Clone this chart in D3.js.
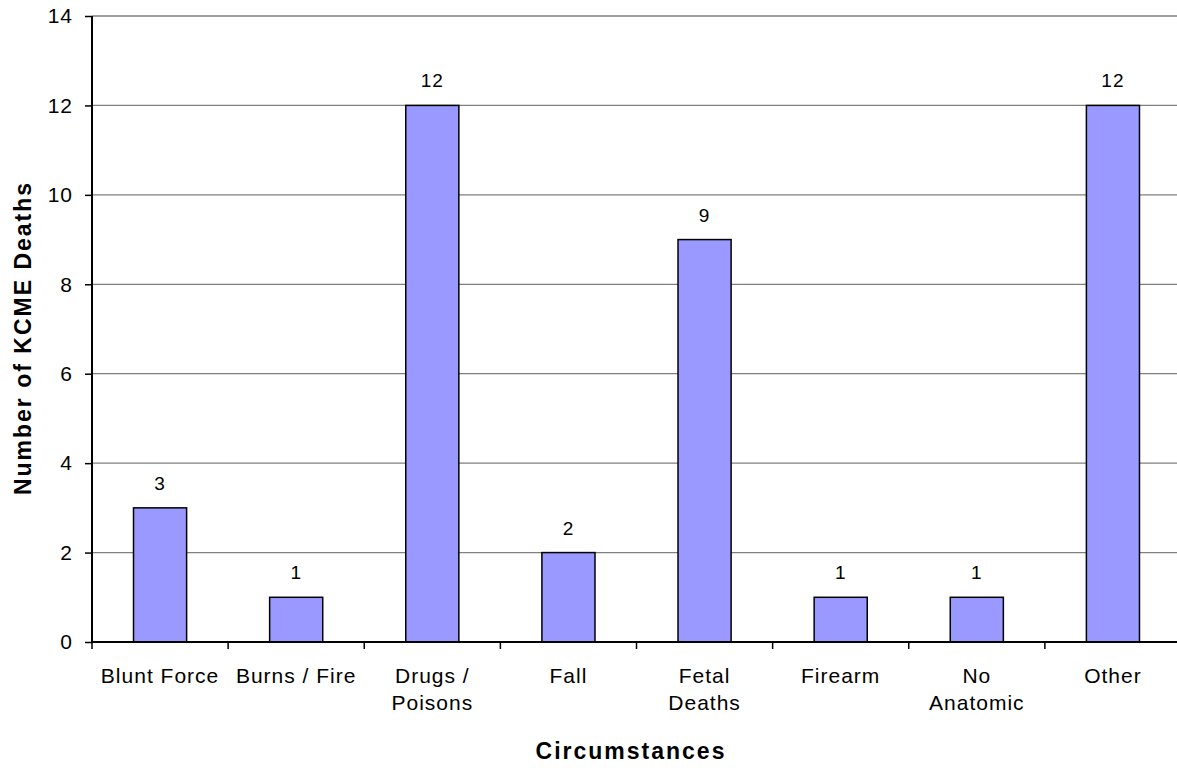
<!DOCTYPE html>
<html>
<head>
<script src="https://cdnjs.cloudflare.com/ajax/libs/d3/7.8.5/d3.min.js"></script>
<style>
  body { margin: 0; background: white; }
  text { font-family: "Liberation Sans", Arial, sans-serif; fill: black; }
</style>
</head>
<body>
<script>
var categories = [["Blunt Force"], ["Burns / Fire"], ["Drugs /", "Poisons"], ["Fall"], ["Fetal", "Deaths"], ["Firearm"], ["No", "Anatomic"], ["Other"]];
var deaths = [3, 1, 12, 2, 9, 1, 1, 12];
var yTicks = [0, 2, 4, 6, 8, 10, 12, 14];

var W = 1177, H = 768;
var mLeft = 92, mRight = 1181, mTop = 16, mBottom = 642;

var svg = d3.select("body").append("svg").attr("width", W).attr("height", H);

var x = d3.scaleBand().domain(d3.range(categories.length)).range([mLeft, mRight]).paddingInner(0.61).paddingOuter(0.305);
var y = d3.scaleLinear().domain([0, 14]).range([mBottom, mTop]);

// gridlines
svg.selectAll(".grid").data(yTicks.filter(function(d) { return d > 0; })).enter().append("line")
  .attr("x1", mLeft).attr("x2", mRight)
  .attr("y1", function(d) { return y(d); }).attr("y2", function(d) { return y(d); })
  .attr("stroke", "#808080").attr("stroke-width", 1.3);

// bars
svg.selectAll(".bar").data(deaths).enter().append("rect")
  .attr("x", function(d, i) { return x(i); })
  .attr("y", function(d) { return y(d); })
  .attr("width", x.bandwidth())
  .attr("height", function(d) { return y(0) - y(d); })
  .attr("fill", "#9999ff").attr("stroke", "black").attr("stroke-width", 1.5);

// value labels
svg.selectAll(".val").data(deaths).enter().append("text")
  .attr("x", function(d, i) { return x(i) + x.bandwidth() / 2; })
  .attr("y", function(d) { return y(d) - 18; })
  .attr("text-anchor", "middle").attr("font-size", 19).attr("letter-spacing", 1)
  .text(function(d) { return d; });

// y axis
var yAxis = d3.axisLeft(y).tickValues(yTicks).tickSize(7).tickPadding(12);
var ya = svg.append("g").attr("transform", "translate(" + mLeft + ",0)").call(yAxis);
ya.select(".domain").attr("stroke", "black").attr("stroke-width", 2).attr("d", "M0," + mTop + "V" + mBottom);
ya.selectAll(".tick line").attr("stroke", "black").attr("stroke-width", 1.5);
ya.selectAll(".tick text").attr("font-size", 21).attr("letter-spacing", 1).attr("fill", "black")
  .attr("font-family", "Liberation Sans, Arial, sans-serif");

// x axis
var step = x.step();
var xa = svg.append("g").attr("transform", "translate(0," + mBottom + ")");
xa.append("line").attr("x1", mLeft).attr("x2", mRight).attr("stroke", "black").attr("stroke-width", 2);
xa.selectAll(".xt").data(d3.range(categories.length + 1)).enter().append("line")
  .attr("x1", function(i) { return mLeft + i * step; }).attr("x2", function(i) { return mLeft + i * step; })
  .attr("y1", 0).attr("y2", 7).attr("stroke", "black").attr("stroke-width", 1.5);
var lab = xa.selectAll(".xl").data(categories).enter().append("text")
  .attr("text-anchor", "middle").attr("font-size", 21).attr("letter-spacing", 1)
  .attr("x", function(d, i) { return x(i) + x.bandwidth() / 2; })
  .attr("y", 41);
lab.selectAll("tspan").data(function(d) { return d; }).enter().append("tspan")
  .attr("x", function() { return this.parentNode.getAttribute("x"); })
  .attr("dy", function(d, i) { return i === 0 ? 0 : 27; })
  .text(function(d) { return d; });

// titles
svg.append("text").attr("x", 631).attr("y", 759).attr("text-anchor", "middle")
  .attr("font-size", 23).attr("font-weight", "bold").attr("letter-spacing", 2).text("Circumstances");
svg.append("text").attr("transform", "translate(31,338) rotate(-90)")
  .attr("text-anchor", "middle").attr("font-size", 23).attr("font-weight", "bold").attr("letter-spacing", 2)
  .text("Number of KCME Deaths");
</script>
</body>
</html>
